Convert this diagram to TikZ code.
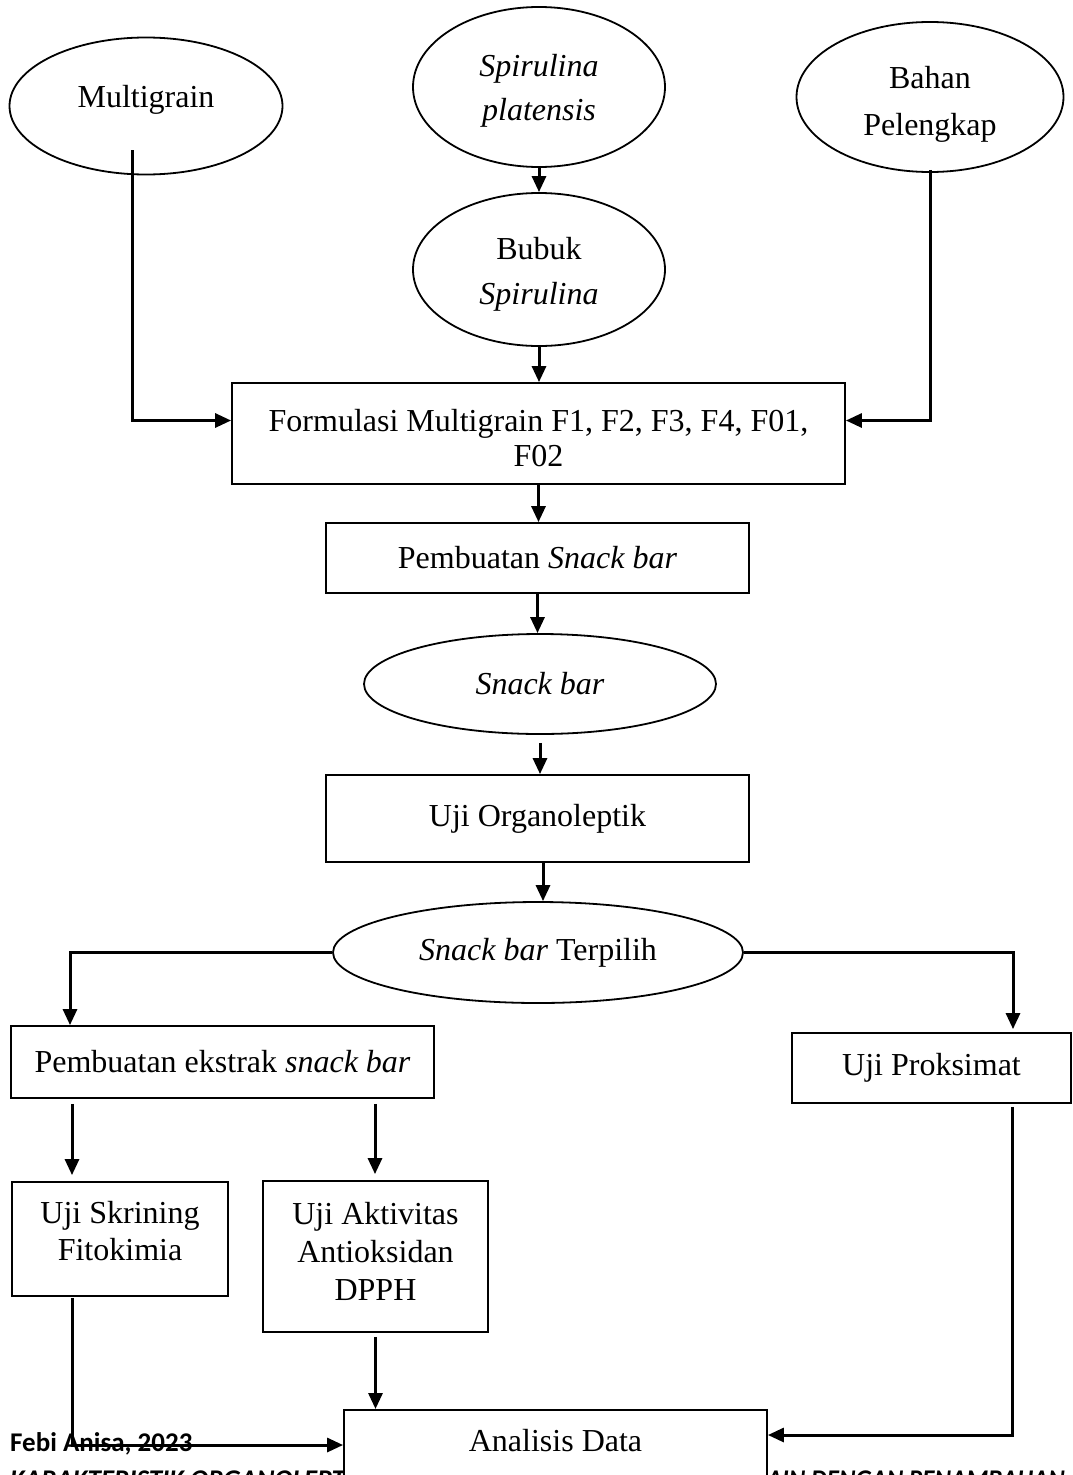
\documentclass[tikz,border=0pt]{standalone}
\usepackage{fontspec}
\setmainfont{Liberation Serif}
\newfontfamily\footfont{Carlito}
\usetikzlibrary{shapes.geometric,arrows.meta,calc}
\begin{document}
\begin{tikzpicture}[x=1pt,y=-1pt,
  every node/.style={font=\fontsize{32}{38}\selectfont, inner sep=0pt, align=center},
  ell/.style={ellipse, draw, line width=1.8pt, fill=white},
  box/.style={rectangle, draw, line width=1.8pt, fill=white},
  conn/.style={line width=3pt, -{Triangle[width=14pt,length=16pt]}},
  foot/.style={font=\footfont\bfseries\fontsize{27}{30}\selectfont, inner sep=0pt}
]
\clip (0,0) rectangle (1072,1475);
\useasboundingbox (0,0) rectangle (1072,1475);

% footer (partly covered by the last box)
\node[foot, anchor=base west] (febi) at (10,1451) {Febi Anisa, 2023};
\node[foot, anchor=base west] (judulA) at (10,1488) {\itshape KARAKTERISTIK ORGANOLEPTIK SNACK BAR};
\node[foot, anchor=base east] (judulB) at (1065,1488) {\scalebox{0.93}[1]{\itshape SNACK BAR MULTIGRAIN DENGAN PENAMBAHAN}};

% nodes
\node[ell, minimum width=273pt, minimum height=137pt] (multi) at (146,106) {Multigrain\rule[-19pt]{0pt}{1pt}};
\node[ell, minimum width=252pt, minimum height=160pt, font=\fontsize{32}{44}\selectfont\itshape] (spir) at (539,87) {\rule{0pt}{30pt}Spirulina\\platensis};
\node[ell, minimum width=267pt, minimum height=150pt, font=\fontsize{32}{47}\selectfont] (bahan) at (930,97) {\rule{0pt}{36pt}Bahan\\Pelengkap};
\node[ell, minimum width=252pt, minimum height=153pt, font=\fontsize{32}{45}\selectfont] (bubuk) at (539,269.5) {\rule{0pt}{32pt}Bubuk\\\textit{Spirulina}};
\node[box, minimum width=613pt, minimum height=101pt, font=\fontsize{32}{35}\selectfont] (form) at (538.5,433.5) {\rule{0pt}{32pt}Formulasi Multigrain F1, F2, F3, F4, F01,\\F02};
\node[box, minimum width=423pt, minimum height=70pt] (pemb) at (537.5,558) {Pembuatan \textit{Snack bar}};
\node[ell, minimum width=352pt, minimum height=100pt] (snack) at (540,684) {\textit{Snack bar}};
\node[box, minimum width=423pt, minimum height=87pt] (org) at (537.5,818.5) {Uji Organoleptik};
\node[ell, minimum width=410pt, minimum height=101pt] (terp) at (538,952.5) {\textit{Snack bar} Terpilih};
\node[box, minimum width=423pt, minimum height=72pt] (ekstrak) at (222.5,1062) {Pembuatan ekstrak \textit{snack bar}};
\node[box, minimum width=279pt, minimum height=70pt] (prok) at (931.5,1068) {Uji Proksimat};
\node[box, minimum width=216pt, minimum height=114pt, font=\fontsize{32}{37}\selectfont] (skrin) at (120,1239) {Uji Skrining\\Fitokimia\rule[-17pt]{0pt}{1pt}};
\node[box, minimum width=225pt, minimum height=151pt, font=\fontsize{32}{38}\selectfont] (aktiv) at (375.5,1256.5) {Uji Aktivitas\\Antioksidan\\DPPH\rule[-10pt]{0pt}{1pt}};
\node[box, minimum width=423pt, minimum height=111pt, anchor=north] (anal) at (555.5,1409) {};
\node (analtext) at (555.5,1441) {Analisis Data};

% connectors
\draw[conn] ([xshift=-14pt,yshift=-44pt]multi.center) |- ([yshift=13pt]form.west);
\draw[conn] ([yshift=3pt]bahan.south) |- ([yshift=13pt]form.east);
\draw[conn] (spir.south) -- (bubuk.north);
\draw[conn] (bubuk.south) -- (bubuk.south |- form.north);
\draw[conn] (form.south) -- (form.south |- pemb.north);
\draw[conn] (pemb.south) -- (pemb.south |- snack.north);
\draw[conn] ([yshift=-8pt]snack.south) -- (snack.south |- org.north);
\draw[conn] ([xshift=5.5pt]org.south) -- ([xshift=5.5pt]org.south |- terp.north);
\draw[conn] (terp.west) -| ([xshift=-152.5pt]ekstrak.north);
\draw[conn] (terp.east) -| ([xshift=81.5pt,yshift=3pt]prok.north);
\draw[conn] ([xshift=-150.5pt,yshift=-5pt]ekstrak.south) -- ([xshift=-150.5pt,yshift=6pt]ekstrak.south |- skrin.north);
\draw[conn] ([xshift=152.5pt,yshift=-5pt]ekstrak.south) -- ([xshift=152.5pt,yshift=6pt]ekstrak.south |- aktiv.north);
\draw[conn] ([xshift=80.5pt,yshift=-3pt]prok.south) |- ([yshift=-26pt]anal.north east);
\draw[conn] ([xshift=-48pt,yshift=-1pt]skrin.south) |- ([yshift=-36pt]anal.north west);
\draw[conn] ([yshift=-4pt]aktiv.south) -- (aktiv.south |- anal.north);
\end{tikzpicture}
\end{document}
